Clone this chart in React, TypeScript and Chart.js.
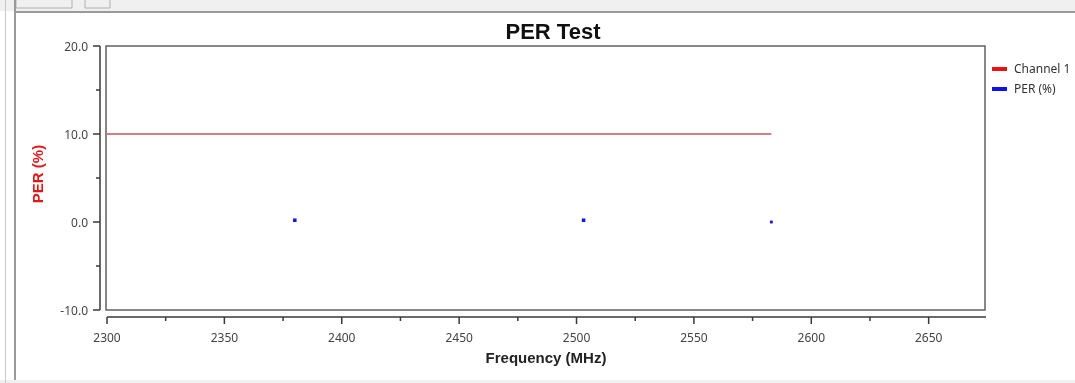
import React, { useEffect, useRef } from "react";
import { Chart, registerables } from "chart.js";

Chart.register(...registerables);

const chartTitle = "PER Test";
const xAxisTitle = "Frequency (MHz)";
const yAxisTitle = "PER (%)";
const seriesNames = ["Channel 1", "PER (%)"];

const channelFreq = [2300, 2583];
const channelLimit = [10, 10];
const perFreq = [2380, 2503, 2583];
const perValues = [0.2, 0.2, 0];
const perPointRadius = [2.5, 2.5, 2];

const xTickValues = [2300, 2350, 2400, 2450, 2500, 2550, 2600, 2650];
const xMinorTicks = [2325, 2375, 2425, 2475, 2525, 2575, 2625];
const yTickValues = [-10, 0, 10, 20];
const yMinorTicks = [-5, 5, 15];

const FONT = "'Noto Sans', 'DejaVu Sans', sans-serif";
const BOLD = "'Liberation Sans', Arial, sans-serif";

const decor = {
  id: "decor",
  beforeDraw(chart: any) {
    const { ctx, width, height } = chart;
    ctx.save();
    ctx.fillStyle = "#ffffff";
    ctx.fillRect(0, 0, width, height);
    // window frame
    ctx.fillStyle = "#f0f0f0";
    ctx.fillRect(0, 0, width, 11);
    ctx.fillRect(0, height - 3, width, 3);
    ctx.strokeStyle = "#b0b0b0";
    ctx.lineWidth = 1;
    ctx.beginPath();
    ctx.moveTo(16, 0); ctx.lineTo(16, 8); ctx.lineTo(72, 8); ctx.lineTo(72, 0);
    ctx.moveTo(85, 0); ctx.lineTo(85, 8); ctx.lineTo(110, 8); ctx.lineTo(110, 0);
    ctx.stroke();
    ctx.strokeStyle = "#c8c8c8";
    ctx.beginPath();
    ctx.moveTo(5.5, 0); ctx.lineTo(5.5, height);
    ctx.stroke();
    ctx.strokeStyle = "#9a9a9a";
    ctx.lineWidth = 2;
    ctx.beginPath();
    ctx.moveTo(15, 0); ctx.lineTo(15, height - 3);
    ctx.moveTo(14, 12); ctx.lineTo(width, 12);
    ctx.stroke();
    ctx.restore();
  },
  afterDraw(chart: any) {
    const { ctx, chartArea } = chart;
    const xs = chart.scales.x;
    const ys = chart.scales.y;
    const { left, right, top, bottom } = chartArea;
    ctx.save();
    // plot box
    ctx.strokeStyle = "#606060";
    ctx.lineWidth = 1.5;
    ctx.strokeRect(left - 1, top, right - left + 1, bottom - top);
    // y axis line
    const ax = left - 7;
    ctx.strokeStyle = "#3a3a3a";
    ctx.lineWidth = 1.5;
    ctx.beginPath();
    ctx.moveTo(ax, top);
    ctx.lineTo(ax, bottom);
    yTickValues.forEach((v) => {
      const p = ys.getPixelForValue(v);
      ctx.moveTo(ax, p);
      ctx.lineTo(ax - 7, p);
    });
    yMinorTicks.forEach((v) => {
      const p = ys.getPixelForValue(v);
      ctx.moveTo(ax, p);
      ctx.lineTo(ax - 4, p);
    });
    ctx.stroke();
    // x axis line
    const ay = bottom + 7;
    ctx.beginPath();
    ctx.moveTo(left, ay);
    ctx.lineTo(right + 1, ay);
    xTickValues.forEach((v) => {
      const p = xs.getPixelForValue(v);
      ctx.moveTo(p, ay);
      ctx.lineTo(p, ay + 7);
    });
    xMinorTicks.forEach((v) => {
      const p = xs.getPixelForValue(v);
      ctx.moveTo(p, ay);
      ctx.lineTo(p, ay + 4);
    });
    ctx.stroke();
    // title
    ctx.fillStyle = "#111111";
    ctx.font = `bold 22px ${BOLD}`;
    ctx.textAlign = "center";
    ctx.textBaseline = "middle";
    ctx.fillText(chartTitle, (left + right) / 2 + 7, 33);
    // x axis title
    ctx.fillStyle = "#222222";
    ctx.font = `bold 15px ${BOLD}`;
    ctx.fillText(xAxisTitle, (left + right) / 2, 359);
    // y axis title
    ctx.save();
    ctx.translate(39, (top + bottom) / 2 - 4);
    ctx.rotate(-Math.PI / 2);
    ctx.fillStyle = "#e01818";
    ctx.font = `bold 15px ${BOLD}`;
    ctx.fillText(yAxisTitle, 0, 0);
    ctx.restore();
    // legend
    const colors = ["#ee1111", "#1111ee"];
    ctx.font = `12px ${FONT}`;
    ctx.textAlign = "left";
    seriesNames.forEach((name, i) => {
      const cy = 69 + i * 20;
      ctx.fillStyle = colors[i];
      ctx.fillRect(992, cy - 2, 15, 4);
      ctx.fillStyle = "#333333";
      ctx.fillText(name, 1014, cy + 1);
    });
    ctx.restore();
  },
};

export default function App() {
  const ref = useRef<HTMLCanvasElement | null>(null);
  useEffect(() => {
    document.body.style.margin = "0";
    if (!ref.current) return;
    const chart = new Chart(ref.current, {
      type: "scatter",
      data: {
        datasets: [
          {
            label: seriesNames[0],
            data: channelFreq.map((x, i) => ({ x, y: channelLimit[i] })),
            showLine: true,
            borderColor: "#d47f7f",
            borderWidth: 2,
            pointRadius: 0,
            backgroundColor: "#d47f7f",
          },
          {
            label: seriesNames[1],
            data: perFreq.map((x, i) => ({ x, y: perValues[i] })),
            showLine: false,
            pointStyle: "rect",
            pointRadius: perPointRadius,
            backgroundColor: "#1515e0",
            borderColor: "#1515e0",
            borderWidth: 0,
          },
        ],
      },
      plugins: [decor],
      options: {
        animation: false,
        responsive: false,
        layout: { padding: { top: 46, right: 90, left: 0, bottom: 0 } },
        plugins: {
          legend: { display: false },
          title: { display: false },
          tooltip: { enabled: false },
        },
        scales: {
          x: {
            type: "linear",
            min: 2300,
            max: 2674,
            afterFit: (s: any) => { s.height = 73; },
            afterBuildTicks: (s: any) => { s.ticks = xTickValues.map((v) => ({ value: v })); },
            grid: { display: false, drawTicks: false, tickLength: 0 },
            border: { display: false },
            ticks: {
              padding: 21,
              color: "#444444",
              font: { size: 12, family: FONT },
              maxRotation: 0,
              autoSkip: false,
              callback: (v: any) => String(v),
            },
          },
          y: {
            type: "linear",
            min: -10,
            max: 20,
            afterFit: (s: any) => { s.width = 107; },
            afterBuildTicks: (s: any) => { s.ticks = yTickValues.map((v) => ({ value: v })); },
            grid: { display: false, drawTicks: false, tickLength: 0 },
            border: { display: false },
            ticks: {
              padding: 19,
              labelOffset: 2,
              color: "#444444",
              font: { size: 12, family: FONT },
              autoSkip: false,
              callback: (v: any) => Number(v).toFixed(1),
            },
          },
        },
      },
    } as any);
    return () => chart.destroy();
  }, []);
  return (
    <div style={{ position: "absolute", left: 0, top: 0, width: 1075, height: 383 }}>
      <canvas ref={ref} width={1075} height={383} style={{ display: "block" }} />
    </div>
  );
}
